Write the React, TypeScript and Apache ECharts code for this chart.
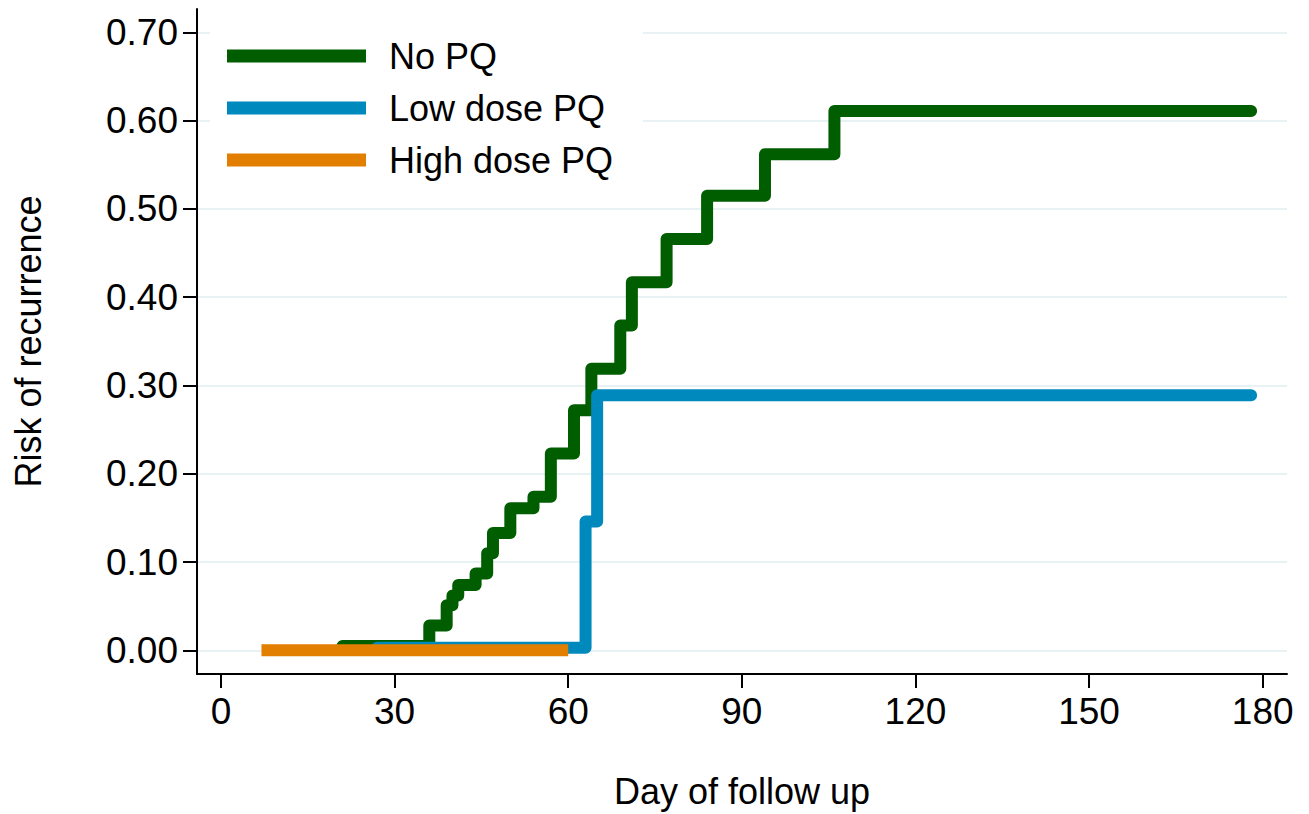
import React, { useEffect, useRef } from "react";
import * as echarts from "echarts";

// ---- data ----
const xTickValues = [0, 30, 60, 90, 120, 150, 180];
const yTickValues = [0, 0.1, 0.2, 0.3, 0.4, 0.5, 0.6, 0.7];

const noPqDays = [21, 36, 39, 40, 41, 44, 46, 47, 50, 54, 57, 61, 64, 69, 71, 77, 84, 94, 106, 178];
const noPqRisk = [0.005, 0.028, 0.051, 0.062, 0.074, 0.087, 0.11, 0.133, 0.161, 0.174, 0.223, 0.272, 0.319, 0.368, 0.417, 0.466, 0.515, 0.562, 0.611, 0.611];

const lowDoseDays = [27, 63, 65, 178];
const lowDoseRisk = [0.003, 0.146, 0.289, 0.289];

const highDoseDays = [7, 60];
const highDoseRisk = [0, 0];

const seriesNames = ["No PQ", "Low dose PQ", "High dose PQ"];

const GREEN = "#005e00";
const BLUE = "#0089bd";
const ORANGE = "#e27f00";
const FONT = "Liberation Sans, Arial, Helvetica, sans-serif";

const zip = (xs: number[], ys: number[]) => xs.map((x, i) => [x, ys[i]]);

export default function App() {
  const ref = useRef<HTMLDivElement>(null);

  useEffect(() => {
    if (!ref.current) return;
    const chart = echarts.init(ref.current, undefined, { renderer: "svg" });

    const lineSeries = (name: string, data: number[][], color: string, cap: string, z: number) => ({
      type: "line",
      name,
      step: "end",
      data,
      symbol: "none",
      showSymbol: false,
      color,
      itemStyle: { color },
      lineStyle: { width: 12, color, cap, join: "round" },
      z,
      silent: true,
    });

    chart.setOption({
      animation: false,
      backgroundColor: "#ffffff",
      textStyle: { fontFamily: FONT },
      grid: { left: 197, top: 9, right: 22, bottom: 138, containLabel: false },
      legend: {
        orient: "vertical",
        left: 210,
        top: 26,
        padding: [10, 30, 10, 17],
        backgroundColor: "#ffffff",
        itemWidth: 139,
        itemHeight: 13,
        itemGap: 12,
        icon: "rect",
        data: seriesNames,
        textStyle: {
          fontSize: 36,
          fontFamily: FONT,
          color: "#000",
          lineHeight: 40,
          padding: [0, 0, 0, 18],
        },
      },
      xAxis: {
        type: "value",
        min: -4.14,
        max: 184.2,
        name: "Day of follow up",
        nameLocation: "middle",
        nameGap: 99,
        nameTextStyle: { fontSize: 36, color: "#000", fontFamily: FONT },
        axisLine: { show: true, onZero: false, lineStyle: { color: "#000", width: 2 } },
        axisTick: {
          show: true,
          inside: false,
          length: 14,
          customValues: xTickValues,
          lineStyle: { color: "#000", width: 2 },
        },
        axisLabel: {
          customValues: xTickValues,
          fontSize: 37,
          color: "#000",
          margin: 19,
          fontFamily: FONT,
          formatter: (v: number) => String(Math.round(v)),
        },
        splitLine: { show: false },
      },
      yAxis: {
        type: "value",
        min: -0.0268,
        max: 0.7264,
        name: "Risk of recurrence",
        nameLocation: "middle",
        nameRotate: 90,
        nameGap: 151,
        nameTextStyle: { fontSize: 36, color: "#000", fontFamily: FONT },
        axisLine: { show: true, onZero: false, lineStyle: { color: "#000", width: 2 } },
        axisTick: {
          show: true,
          inside: false,
          length: 14,
          customValues: yTickValues,
          lineStyle: { color: "#000", width: 2 },
        },
        axisLabel: {
          customValues: yTickValues,
          fontSize: 37,
          color: "#000",
          margin: 19,
          fontFamily: FONT,
          formatter: (v: number) => v.toFixed(2),
        },
        splitLine: { show: true, lineStyle: { color: "#e8f1f3", width: 2 } },
      },
      series: [
        lineSeries(seriesNames[0], zip(noPqDays, noPqRisk), GREEN, "round", 2),
        lineSeries(seriesNames[1], zip(lowDoseDays, lowDoseRisk), BLUE, "round", 3),
        lineSeries(seriesNames[2], zip(highDoseDays, highDoseRisk), ORANGE, "butt", 4),
      ],
    });

    return () => chart.dispose();
  }, []);

  return (
    <div
      ref={ref}
      style={{ position: "fixed", left: 0, top: 0, width: 1309, height: 814, background: "#fff" }}
    />
  );
}
